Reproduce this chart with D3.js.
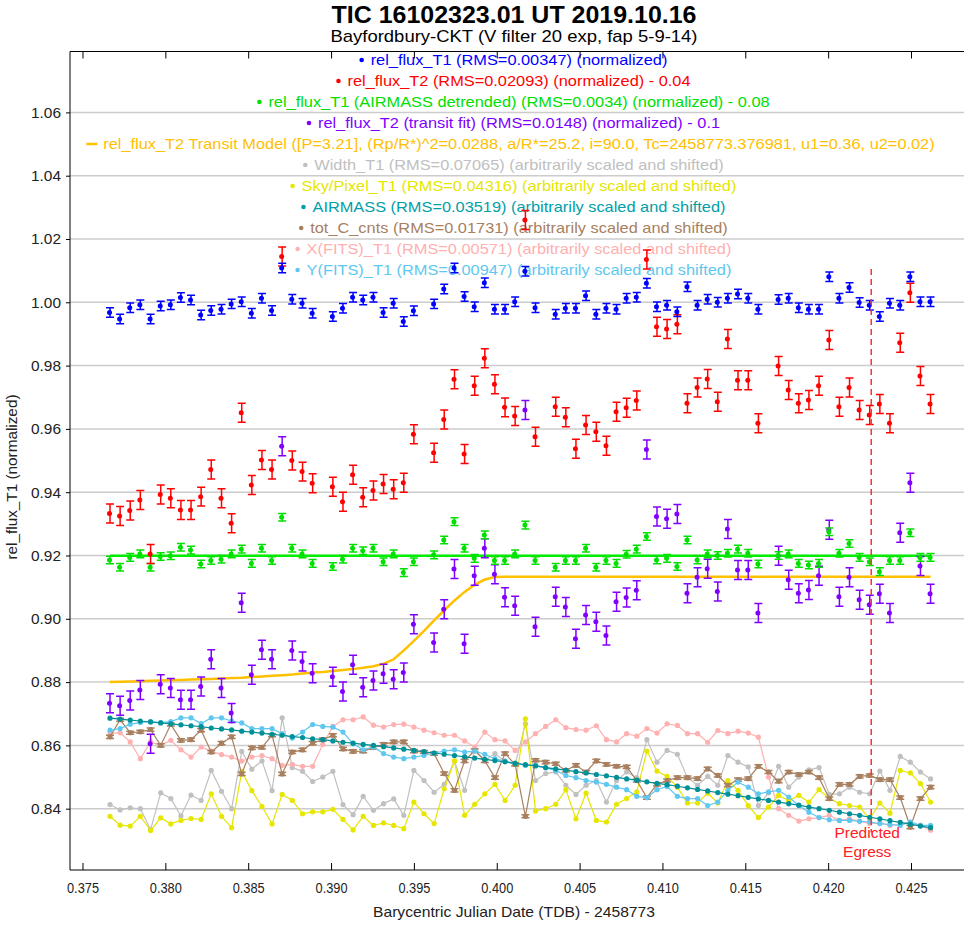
<!DOCTYPE html>
<html>
<head>
<meta charset="utf-8">
<script src="https://cdn.jsdelivr.net/npm/d3@7"></script>
<style>
  body { margin: 0; background: #fff; }
  svg { display: block; }
  text { font-family: "Liberation Sans", Arial, sans-serif; }
</style>
</head>
<body>
<svg id="chart" width="964" height="926"></svg>
<script>
// Barycentric Julian Date (TDB) - 2458773 for each exposure
const bjd = [
  0.37666, 0.37727, 0.37788, 0.37849, 0.37911, 0.37972, 0.38033, 0.38094, 0.38155, 0.38216,
  0.38277, 0.38339, 0.38400, 0.38461, 0.38522, 0.38583, 0.38644, 0.38705, 0.38766, 0.38828,
  0.38889, 0.38950, 0.39011, 0.39072, 0.39133, 0.39194, 0.39256, 0.39317, 0.39378, 0.39439,
  0.39500, 0.39561, 0.39622, 0.39683, 0.39745, 0.39806, 0.39867, 0.39928, 0.39989, 0.40050,
  0.40111, 0.40173, 0.40234, 0.40295, 0.40356, 0.40417, 0.40478, 0.40539, 0.40601, 0.40662,
  0.40723, 0.40784, 0.40845, 0.40906, 0.40967, 0.41028, 0.41090, 0.41151, 0.41212, 0.41273,
  0.41334, 0.41395, 0.41456, 0.41518, 0.41579, 0.41640, 0.41701, 0.41762, 0.41823, 0.41884,
  0.41945, 0.42007, 0.42068, 0.42129, 0.42190, 0.42251, 0.42312, 0.42373, 0.42435, 0.42496,
  0.42557, 0.42618
];

// rel_flux_T1 (normalized)
const relFluxT1 = [
  0.9968, 0.9947, 0.9983, 0.9992, 0.9947, 0.9988, 0.9992, 1.0015, 1.0007, 0.9960,
  0.9974, 0.9978, 0.9995, 1.0002, 0.9965, 1.0013, 0.9974, 1.0108, 1.0010, 0.9997,
  0.9965, null,   0.9955, 0.9981, 1.0016, 1.0007, 1.0016, 0.9968, 0.9997, 0.9939,
  0.9973, null,   0.9995, 1.0042, 1.0108, 1.0018, 0.9986, 1.0062, 0.9978, 0.9978,
  1.0002, 1.0098, 0.9983, null,   0.9962, 0.9981, 0.9981, 1.0021, 0.9962, 0.9981,
  0.9978, 1.0013, 1.0016, 1.0060, 0.9986, 0.9991, 0.9970, 1.0049, 0.9991, 1.0010,
  1.0000, 1.0013, 1.0026, 1.0013, 0.9978, null,   1.0009, 1.0013, 0.9983, 0.9978,
  0.9978, 1.0081, 1.0013, 1.0047, 0.9999, 0.9991, 0.9955, 0.9997, 0.9991, 1.0081,
  1.0002, 1.0002
];

// rel_flux_T2 (normalized) - 0.04
const relFluxT2 = [
  0.9333, 0.9325, 0.9342, 0.9375, 0.9205, 0.9393, 0.9381, 0.9344, 0.9344, 0.9386,
  0.9472, 0.9381, 0.9302, 0.9651, 0.9423, 0.9502, 0.9472, 1.0145, 0.9500, 0.9465,
  0.9428, null,   0.9417, 0.9370, 0.9455, 0.9384, 0.9405, 0.9426, 0.9409, 0.9430,
  0.9583, null,   0.9525, 0.9630, 0.9757, 0.9521, 0.9736, 0.9823, 0.9741, 0.9668,
  0.9641, 1.0260, 0.9575, null,   0.9670, 0.9637, 0.9537, 0.9612, 0.9591, 0.9547,
  0.9654, 0.9667, 0.9690, 1.0135, 0.9923, 0.9916, 0.9931, 0.9681, 0.9731, 0.9758,
  0.9686, 0.9884, 0.9754, 0.9754, 0.9618, null,   0.9799, 0.9723, 0.9681, 0.9691,
  0.9736, 0.9881, 0.9670, 0.9731, 0.9660, 0.9644, 0.9679, 0.9618, 0.9872, 1.0030,
  0.9767, 0.9679
];

// rel_flux_T1 (AIRMASS detrended) (normalized) - 0.08
const relFluxT1Detrended = [
  0.9186, 0.9163, 0.9194, 0.9205, 0.9163, 0.9197, 0.9199, 0.9226, 0.9217, 0.9173,
  0.9184, 0.9188, 0.9205, 0.9220, 0.9175, 0.9223, 0.9184, 0.9321, 0.9223, 0.9205,
  0.9175, null,   0.9165, 0.9188, 0.9223, 0.9215, 0.9223, 0.9180, 0.9205, 0.9146,
  0.9180, null,   0.9202, 0.9249, 0.9307, 0.9223, 0.9191, 0.9265, 0.9184, 0.9184,
  0.9205, 0.9296, 0.9184, null,   0.9163, 0.9184, 0.9184, 0.9223, 0.9163, 0.9184,
  0.9175, 0.9204, 0.9220, 0.9260, 0.9186, 0.9191, 0.9165, 0.9249, 0.9186, 0.9205,
  0.9200, 0.9207, 0.9220, 0.9207, 0.9173, null,   0.9200, 0.9205, 0.9175, 0.9170,
  0.9175, 0.9275, 0.9207, 0.9238, 0.9194, 0.9180, 0.9149, 0.9184, 0.9184, 0.9272,
  0.9194, 0.9194
];
const detrendedFitLevel = 0.9199;

// rel_flux_T2 (transit fit) (normalized) - 0.1
const relFluxT2Fit = [
  0.8733, 0.8725, 0.8742, 0.8775, 0.8605, 0.8793, 0.8781, 0.8744, 0.8744, 0.8786,
  0.8872, 0.8781, 0.8702, 0.9051, 0.8823, 0.8902, 0.8872, 0.9545, 0.8900, 0.8865,
  0.8828, null,   0.8817, 0.8770, 0.8855, 0.8784, 0.8805, 0.8826, 0.8809, 0.8830,
  0.8983, null,   0.8925, 0.9030, 0.9157, 0.8921, 0.9136, 0.9223, 0.9141, 0.9068,
  0.9041, 0.9660, 0.8975, null,   0.9070, 0.9037, 0.8937, 0.9012, 0.8991, 0.8947,
  0.9054, 0.9067, 0.9090, 0.9535, 0.9323, 0.9316, 0.9331, 0.9081, 0.9131, 0.9158,
  0.9086, 0.9284, 0.9154, 0.9154, 0.9018, null,   0.9199, 0.9123, 0.9081, 0.9091,
  0.9136, 0.9281, 0.9070, 0.9131, 0.9060, 0.9044, 0.9079, 0.9018, 0.9272, 0.9430,
  0.9167, 0.9079
];

// rel_flux_T2 transit model, offset like the fitted series
const transitModel = [
  0.8800, 0.8801, 0.8802, 0.8803, 0.8804, 0.8805, 0.8806, 0.8807, 0.8808, 0.8809,
  0.8810, 0.8811, 0.8813, 0.8814, 0.8816, 0.8818, 0.8820, 0.8822, 0.8824, 0.8827,
  0.8830, 0.8832, 0.8835, 0.8838, 0.8841, 0.8845, 0.8850, 0.8858, 0.8872, 0.8900,
  0.8930, 0.8962, 0.8995, 0.9027, 0.9058, 0.9085, 0.9108, 0.9124, 0.9132, 0.9133,
  0.9133, 0.9133, 0.9133, 0.9133, 0.9133, 0.9133, 0.9133, 0.9133, 0.9133, 0.9133,
  0.9133, 0.9133, 0.9133, 0.9133, 0.9133, 0.9133, 0.9133, 0.9133, 0.9133, 0.9133,
  0.9133, 0.9133, 0.9133, 0.9133, 0.9133, 0.9133, 0.9133, 0.9133, 0.9133, 0.9133,
  0.9133, 0.9133, 0.9133, 0.9133, 0.9133, 0.9133, 0.9133, 0.9133, 0.9133, 0.9133,
  0.9133, 0.9133
];

// Width_T1 (arbitrarily scaled and shifted)
const widthT1 = [
  0.8413, 0.8396, 0.8403, 0.8400, 0.8334, 0.8450, 0.8432, 0.8377, 0.8443, 0.8426,
  0.8521, 0.8455, 0.8400, 0.8581, 0.8525, 0.8551, 0.8457, 0.8687, 0.8530, 0.8518,
  0.8486, 0.8500, 0.8518, 0.8413, 0.8381, 0.8439, 0.8395, 0.8416, 0.8431, 0.8379,
  0.8521, 0.8489, 0.8452, 0.8477, 0.8550, 0.8458, 0.8586, 0.8553, 0.8574, 0.8550,
  0.8540, 0.8668, 0.8489, 0.8511, 0.8516, 0.8474, 0.8445, 0.8474, 0.8489, 0.8421,
  0.8489, 0.8516, 0.8498, 0.8618, 0.8547, 0.8584, 0.8572, 0.8498, 0.8474, 0.8502,
  0.8474, 0.8568, 0.8547, 0.8532, 0.8410, 0.8450, 0.8534, 0.8468, 0.8500, 0.8523,
  0.8530, 0.8445, 0.8447, 0.8468, 0.8452, 0.8447, 0.8519, 0.8458, 0.8565, 0.8547,
  0.8516, 0.8494
];

// Sky/Pixel_T1 (arbitrarily scaled and shifted)
const skyPixelT1 = [
  0.8376, 0.8348, 0.8345, 0.8376, 0.8331, 0.8371, 0.8352, 0.8363, 0.8369, 0.8366,
  0.8447, 0.8376, 0.8340, 0.8518, 0.8457, 0.8407, 0.8352, 0.8445, 0.8426, 0.8384,
  0.8390, 0.8390, 0.8398, 0.8366, 0.8333, 0.8376, 0.8347, 0.8355, 0.8347, 0.8337,
  0.8421, 0.8384, 0.8353, 0.8463, 0.8551, 0.8379, 0.8414, 0.8447, 0.8477, 0.8426,
  0.8474, 0.8684, 0.8393, 0.8400, 0.8414, 0.8460, 0.8368, 0.8449, 0.8363, 0.8358,
  0.8414, 0.8432, 0.8453, 0.8582, 0.8519, 0.8502, 0.8468, 0.8418, 0.8418, 0.8449,
  0.8418, 0.8489, 0.8458, 0.8410, 0.8372, 0.8405, 0.8442, 0.8426, 0.8442, 0.8421,
  0.8460, 0.8432, 0.8416, 0.8410, 0.8405, 0.8368, 0.8418, 0.8386, 0.8521, 0.8513,
  0.8479, 0.8421
];

// AIRMASS (arbitrarily scaled and shifted)
const airmass = [
  0.8686, 0.8683, 0.8680, 0.8677, 0.8674, 0.8671, 0.8668, 0.8665, 0.8662, 0.8659,
  0.8655, 0.8652, 0.8649, 0.8645, 0.8642, 0.8639, 0.8635, 0.8632, 0.8628, 0.8625,
  0.8621, 0.8618, 0.8614, 0.8610, 0.8607, 0.8603, 0.8600, 0.8596, 0.8592, 0.8588,
  0.8584, 0.8580, 0.8576, 0.8572, 0.8568, 0.8564, 0.8560, 0.8556, 0.8552, 0.8548,
  0.8543, 0.8539, 0.8535, 0.8530, 0.8526, 0.8522, 0.8517, 0.8513, 0.8508, 0.8504,
  0.8499, 0.8494, 0.8490, 0.8485, 0.8480, 0.8476, 0.8471, 0.8466, 0.8461, 0.8456,
  0.8451, 0.8446, 0.8441, 0.8436, 0.8431, 0.8426, 0.8421, 0.8416, 0.8411, 0.8405,
  0.8400, 0.8395, 0.8389, 0.8384, 0.8379, 0.8373, 0.8368, 0.8362, 0.8357, 0.8351,
  0.8345, 0.8340
];

// tot_C_cnts (arbitrarily scaled and shifted)
const totCCnts = [
  0.8627, 0.8681, 0.8640, 0.8643, 0.8650, 0.8600, 0.8666, 0.8616, 0.8618, 0.8648,
  0.8579, 0.8607, 0.8627, 0.8510, 0.8592, 0.8594, 0.8632, 0.8510, 0.8579, 0.8586,
  0.8607, 0.8618, 0.8632, 0.8589, 0.8581, 0.8582, 0.8593, 0.8603, 0.8611, 0.8611,
  0.8582, 0.8579, 0.8574, 0.8511, 0.8458, 0.8551, 0.8584, 0.8551, 0.8498, 0.8574,
  0.8540, 0.8376, 0.8553, 0.8547, 0.8542, 0.8521, 0.8537, 0.8516, 0.8551, 0.8540,
  0.8534, 0.8532, 0.8489, 0.8435, 0.8477, 0.8489, 0.8498, 0.8498, 0.8495, 0.8526,
  0.8505, 0.8474, 0.8492, 0.8495, 0.8534, 0.8516, 0.8487, 0.8516, 0.8508, 0.8516,
  0.8498, 0.8432, 0.8477, 0.8477, 0.8502, 0.8505, 0.8492, 0.8492, 0.8435, 0.8342,
  0.8432, 0.8468
];

// X(FITS)_T1 (arbitrarily scaled and shifted)
const xFitsT1 = [
  0.8637, 0.8640, 0.8611, 0.8558, 0.8611, 0.8600, 0.8616, 0.8586, 0.8563, 0.8595,
  0.8582, 0.8571, 0.8563, 0.8550, 0.8563, 0.8568, 0.8558, 0.8537, 0.8540, 0.8534,
  0.8534, 0.8603, 0.8660, 0.8681, 0.8681, 0.8690, 0.8664, 0.8658, 0.8666, 0.8667,
  0.8658, 0.8648, 0.8640, 0.8632, 0.8632, 0.8614, 0.8595, 0.8642, 0.8618, 0.8614,
  0.8584, 0.8611, 0.8637, 0.8660, 0.8681, 0.8656, 0.8650, 0.8648, 0.8662, 0.8618,
  0.8611, 0.8637, 0.8629, 0.8653, 0.8639, 0.8668, 0.8663, 0.8637, 0.8637, 0.8610,
  0.8647, 0.8637, 0.8645, 0.8639, 0.8626, 0.8500, 0.8400, 0.8379, 0.8361, 0.8368,
  0.8372, 0.8379, 0.8363, 0.8368, 0.8361, 0.8353, 0.8355, 0.8347, 0.8350, 0.8358,
  0.8347, 0.8332
];

// Y(FITS)_T1 (arbitrarily scaled and shifted)
const yFitsT1 = [
  0.8648, 0.8653, 0.8667, 0.8672, 0.8675, 0.8672, 0.8675, 0.8687, 0.8687, 0.8669,
  0.8687, 0.8687, 0.8677, 0.8671, 0.8653, 0.8653, 0.8653, 0.8637, 0.8623, 0.8642,
  0.8666, 0.8660, 0.8658, 0.8642, 0.8605, 0.8586, 0.8595, 0.8574, 0.8563, 0.8558,
  0.8563, 0.8568, 0.8576, 0.8582, 0.8586, 0.8579, 0.8582, 0.8572, 0.8558, 0.8550,
  0.8544, 0.8537, 0.8537, 0.8529, 0.8521, 0.8505, 0.8498, 0.8489, 0.8484, 0.8477,
  0.8468, 0.8460, 0.8439, 0.8435, 0.8460, 0.8470, 0.8439, 0.8432, 0.8432, 0.8410,
  0.8421, 0.8458, 0.8484, 0.8468, 0.8447, 0.8453, 0.8458, 0.8437, 0.8410, 0.8389,
  0.8372, 0.8365, 0.8363, 0.8363, 0.8360, 0.8358, 0.8353, 0.8350, 0.8347, 0.8358,
  0.8347, 0.8347
];

// one-sigma uncertainties used for the error bars
const errT1 = 0.0015, errT2 = 0.0030, errT1Detrended = 0.0012, errT2Fit = 0.0030, errTotC = 0.0005;

const predictedEgress = 0.4226;
const yTicks = [0.84, 0.86, 0.88, 0.90, 0.92, 0.94, 0.96, 0.98, 1.00, 1.02, 1.04, 1.06];
const xTicks = [0.375, 0.380, 0.385, 0.390, 0.395, 0.400, 0.405, 0.410, 0.415, 0.420, 0.425];

const legendEntries = [
  { text: "rel_flux_T1 (RMS=0.00347) (normalized)", color: "#0000ff", kind: "dot" },
  { text: "rel_flux_T2 (RMS=0.02093) (normalized) - 0.04", color: "#ff0000", kind: "dot" },
  { text: "rel_flux_T1 (AIRMASS detrended) (RMS=0.0034) (normalized) - 0.08", color: "#00e000", kind: "dot" },
  { text: "rel_flux_T2 (transit fit) (RMS=0.0148) (normalized) - 0.1", color: "#8000ff", kind: "dot" },
  { text: "rel_flux_T2 Transit Model ([P=3.21], (Rp/R*)^2=0.0288, a/R*=25.2, i=90.0, Tc=2458773.376981, u1=0.36, u2=0.02)", color: "#ffc000", kind: "line" },
  { text: "Width_T1 (RMS=0.07065) (arbitrarily scaled and shifted)", color: "#c0c0c0", kind: "dot" },
  { text: "Sky/Pixel_T1 (RMS=0.04316) (arbitrarily scaled and shifted)", color: "#e6e600", kind: "dot" },
  { text: "AIRMASS (RMS=0.03519) (arbitrarily scaled and shifted)", color: "#00a0a8", kind: "dot" },
  { text: "tot_C_cnts (RMS=0.01731) (arbitrarily scaled and shifted)", color: "#a88060", kind: "dot" },
  { text: "X(FITS)_T1 (RMS=0.00571) (arbitrarily scaled and shifted)", color: "#ffb0b0", kind: "dot" },
  { text: "Y(FITS)_T1 (RMS=0.00947) (arbitrarily scaled and shifted)", color: "#60c8f0", kind: "dot" }
];

const svg = d3.select("#chart");
const plot = { left: 70, right: 958, top: 51.5, bottom: 870 };
const centerX = 514;
const legendX = 519;
const narrow = "'Liberation Sans Narrow', 'Liberation Sans', Arial, sans-serif";

const x = d3.scaleLinear().domain([0.374246, 0.427836]).range([plot.left, plot.right]);
const y = d3.scaleLinear().domain([0.82063, 1.07924]).range([plot.bottom, plot.top]);

// horizontal grid
svg.append("g").selectAll("line").data(yTicks).join("line")
  .attr("x1", plot.left).attr("x2", 964)
  .attr("y1", d => y(d)).attr("y2", d => y(d))
  .attr("stroke", "#cccccc").attr("stroke-width", 1.5);

// axes
const xAxisBottom = d3.axisBottom(x).tickValues(xTicks).tickFormat(d3.format(".3f")).tickSizeInner(-7).tickSizeOuter(0).tickPadding(12);
const gx = svg.append("g").attr("transform", `translate(0,${plot.bottom})`).call(xAxisBottom);
gx.select(".domain").attr("stroke", "#000").attr("d", `M${plot.left},0H964`);
gx.selectAll("text").attr("font-size", 15).attr("fill", "#222").attr("font-family", narrow)
  .attr("textLength", 32).attr("lengthAdjust", "spacingAndGlyphs");

const xAxisTop = d3.axisTop(x).tickValues(xTicks).tickFormat("").tickSizeInner(-7).tickSizeOuter(0);
const gxt = svg.append("g").attr("transform", `translate(0,${plot.top})`).call(xAxisTop);
gxt.select(".domain").attr("stroke", "#000").attr("d", `M${plot.left},0H964`);

const yAxis = d3.axisLeft(y).tickValues(yTicks).tickFormat(d3.format(".2f")).tickSize(4).tickPadding(5);
const gy = svg.append("g").attr("transform", `translate(${plot.left},0)`).call(yAxis);
gy.select(".domain").attr("stroke", "#000").attr("d", `M0,${plot.top}V${plot.bottom}`);
gy.selectAll("text").attr("font-size", 15).attr("fill", "#222").attr("font-family", narrow)
  .attr("textLength", 30).attr("lengthAdjust", "spacingAndGlyphs");

// titles
function fittedText(xc, yb, size, weight, width, str, color) {
  return svg.append("text").attr("x", xc).attr("y", yb).attr("text-anchor", "middle")
    .attr("font-size", size).attr("font-weight", weight).attr("fill", color)
    .attr("font-family", narrow)
    .attr("textLength", width).attr("lengthAdjust", "spacingAndGlyphs")
    .text(str);
}
fittedText(centerX, 23, 24, "bold", 365, "TIC 16102323.01 UT 2019.10.16", "#000");
fittedText(centerX, 42, 17, "normal", 367, "Bayfordbury-CKT (V filter 20 exp, fap 5-9-14)", "#000");
fittedText(centerX, 917, 15, "normal", 282, "Barycentric Julian Date (TDB) - 2458773", "#222");
svg.append("text").attr("transform", `translate(17,477) rotate(-90)`)
  .attr("text-anchor", "middle").attr("font-size", 15).attr("fill", "#222")
  .attr("font-family", narrow)
  .attr("textLength", 165).attr("lengthAdjust", "spacingAndGlyphs")
  .text("rel_flux_T1 (normalized)");

// legend
const legend = svg.append("g");
legendEntries.forEach((e, k) => {
  const cy = 60 + 21 * k;
  const t = legend.append("text").attr("x", legendX).attr("y", cy + 5).attr("text-anchor", "middle")
    .attr("font-size", 15).attr("fill", e.color).text(e.text);
  const w = t.node().getComputedTextLength() * 1.09;
  t.attr("textLength", w).attr("lengthAdjust", "spacingAndGlyphs");
  const x0 = legendX - w / 2;
  if (e.kind === "line") {
    legend.append("line").attr("x1", x0 - 17).attr("x2", x0 - 6).attr("y1", cy).attr("y2", cy)
      .attr("stroke", e.color).attr("stroke-width", 2.5);
  } else {
    legend.append("circle").attr("cx", x0 - 9).attr("cy", cy).attr("r", 2.3).attr("fill", e.color);
  }
});

function points(values) {
  return bjd.map((t, i) => ({ t, v: values[i] })).filter(d => d.v !== null);
}

function errorBarPath(d, err) {
  const cx = x(d.t), y1 = y(d.v - err), y2 = y(d.v + err);
  return `M${cx - 4},${y1}H${cx + 4}M${cx},${y1}V${y2}M${cx - 4},${y2}H${cx + 4}`;
}

// auxiliary series: connected markers
function lineSeries(values, color, err) {
  const pts = points(values);
  const g = svg.append("g");
  g.append("path").datum(pts)
    .attr("d", d3.line().x(d => x(d.t)).y(d => y(d.v)))
    .attr("fill", "none").attr("stroke", color).attr("stroke-width", 1.2);
  if (err) {
    g.selectAll("path.eb").data(pts).join("path").attr("class", "eb")
      .attr("d", d => errorBarPath(d, err))
      .attr("fill", "none").attr("stroke", color).attr("stroke-width", 1.5);
  }
  g.selectAll("circle").data(pts).join("circle")
    .attr("cx", d => x(d.t)).attr("cy", d => y(d.v)).attr("r", 2.6).attr("fill", color);
}

lineSeries(widthT1, "#c0c0c0");
lineSeries(skyPixelT1, "#e6e600");
lineSeries(xFitsT1, "#ffb0b0");
lineSeries(totCCnts, "#a88060", errTotC);
lineSeries(yFitsT1, "#60c8f0");
lineSeries(airmass, "#009098");

// transit model and detrended fit level
svg.append("path").datum(points(transitModel))
  .attr("d", d3.line().x(d => x(d.t)).y(d => y(d.v)))
  .attr("fill", "none").attr("stroke", "#ffc000").attr("stroke-width", 2.5);
svg.append("line")
  .attr("x1", x(bjd[0])).attr("x2", x(bjd[bjd.length - 1]))
  .attr("y1", y(detrendedFitLevel)).attr("y2", y(detrendedFitLevel))
  .attr("stroke", "#00ee00").attr("stroke-width", 2.5);

// flux series with error bars
function errorSeries(values, color, err) {
  const pts = points(values);
  const g = svg.append("g");
  g.selectAll("path").data(pts).join("path")
    .attr("d", d => errorBarPath(d, err))
    .attr("fill", "none").attr("stroke", color).attr("stroke-width", 1.5);
  g.selectAll("circle").data(pts).join("circle")
    .attr("cx", d => x(d.t) - 0.5).attr("cy", d => y(d.v)).attr("r", 2.5).attr("fill", color);
}

errorSeries(relFluxT2Fit, "#8000ff", errT2Fit);
errorSeries(relFluxT1Detrended, "#00e000", errT1Detrended);
errorSeries(relFluxT2, "#ff0000", errT2);
errorSeries(relFluxT1, "#0000ff", errT1);

// predicted egress marker
svg.append("line")
  .attr("x1", x(predictedEgress)).attr("x2", x(predictedEgress))
  .attr("y1", y(1.0105)).attr("y2", y(0.8325))
  .attr("stroke", "#ff3030").attr("stroke-width", 1.5).attr("stroke-dasharray", "6,4");
svg.append("text").attr("x", x(predictedEgress) - 4).attr("y", 838).attr("text-anchor", "middle")
  .attr("font-size", 15.5).attr("fill", "#ff2020").text("Predicted");
svg.append("text").attr("x", x(predictedEgress) - 4).attr("y", 857).attr("text-anchor", "middle")
  .attr("font-size", 15.5).attr("fill", "#ff2020").text("Egress");
</script>
</body>
</html>
